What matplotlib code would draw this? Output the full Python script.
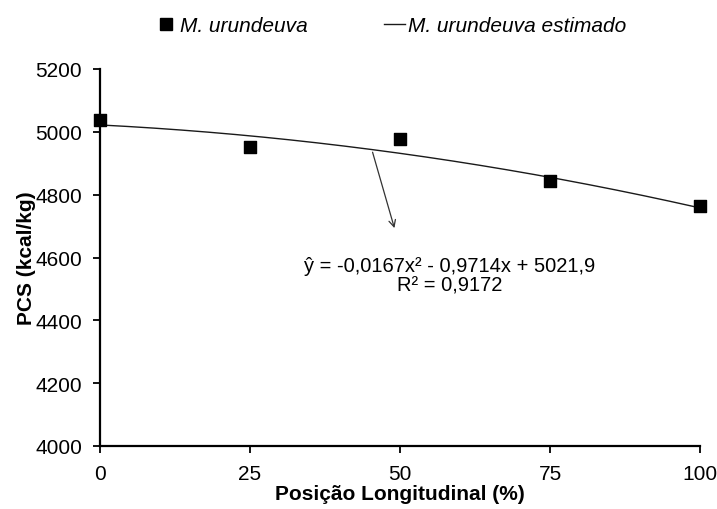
import numpy as np
import matplotlib.pyplot as plt
from matplotlib.lines import Line2D

plt.rcParams['font.family'] = ['Liberation Sans', 'DejaVu Sans']

# Data
posicao = [0, 25, 50, 75, 100]
pcs = [5038, 4952, 4978, 4843, 4763]

# Trendline coefficients (as printed on the chart)
coef_a = -0.0167
coef_b = -0.9714
coef_c = 5021.9
eq_text = "ŷ = -0,0167x² - 0,9714x + 5021,9"
r2_text = "R² = 0,9172"

fig = plt.figure(figsize=(7.17, 5.10), dpi=100)
# axes box in pixels: left 100, right 700, top 70, bottom 447
ax = fig.add_axes([100 / 717, 1 - 447 / 510, 600 / 717, 377 / 510])

xs = np.linspace(0, 100, 200)
ys = coef_a * xs ** 2 + coef_b * xs + coef_c
ax.plot(xs, ys, color='#1a1a1a', lw=1.0, zorder=2)
ax.scatter(posicao, pcs, marker='s', s=78, color='black', zorder=3, clip_on=False)

ax.set_xlim(0, 100)
ax.set_ylim(4000, 5200)
ax.set_xticks(posicao)
ax.set_yticks(range(4000, 5201, 200))
ax.tick_params(axis='both', direction='out', length=5, width=1.3, labelsize=15, colors='black', pad=8)
for side in ['top', 'right']:
    ax.spines[side].set_visible(False)
for side in ['left', 'bottom']:
    ax.spines[side].set_linewidth(1.6)

ax.set_xlabel("Posição Longitudinal (%)", fontsize=15, fontweight='bold', labelpad=1)
ax.set_ylabel("PCS (kcal/kg)", fontsize=15, fontweight='bold', labelpad=-1)

# equation annotation with arrow
x_arrow = 45.3
ax.annotate("", xy=(49.2, 4685), xytext=(x_arrow, coef_a * x_arrow ** 2 + coef_b * x_arrow + coef_c),
            arrowprops=dict(arrowstyle='->', color='#333333', lw=0.9, mutation_scale=12))
ax.text(58.2, 4576, eq_text, ha='center', va='center', fontsize=14.5)
ax.text(58.2, 4514, r2_text, ha='center', va='center', fontsize=14.5)

# legend on top
handles = [Line2D([], [], marker='s', color='black', ls='none', markersize=8),
           Line2D([], [], color='#1a1a1a', lw=1.0)]
labels = ["M. urundeuva", "M. urundeuva estimado"]
fig.legend(handles, labels, loc='center', bbox_to_anchor=(391 / 717, 1 - 27 / 510), ncol=2,
           frameon=False, prop={'style': 'italic', 'size': 15}, handlelength=1.0,
           handletextpad=0.15, columnspacing=3.65, borderpad=0, borderaxespad=0)

fig.savefig("out.png", dpi=100)
